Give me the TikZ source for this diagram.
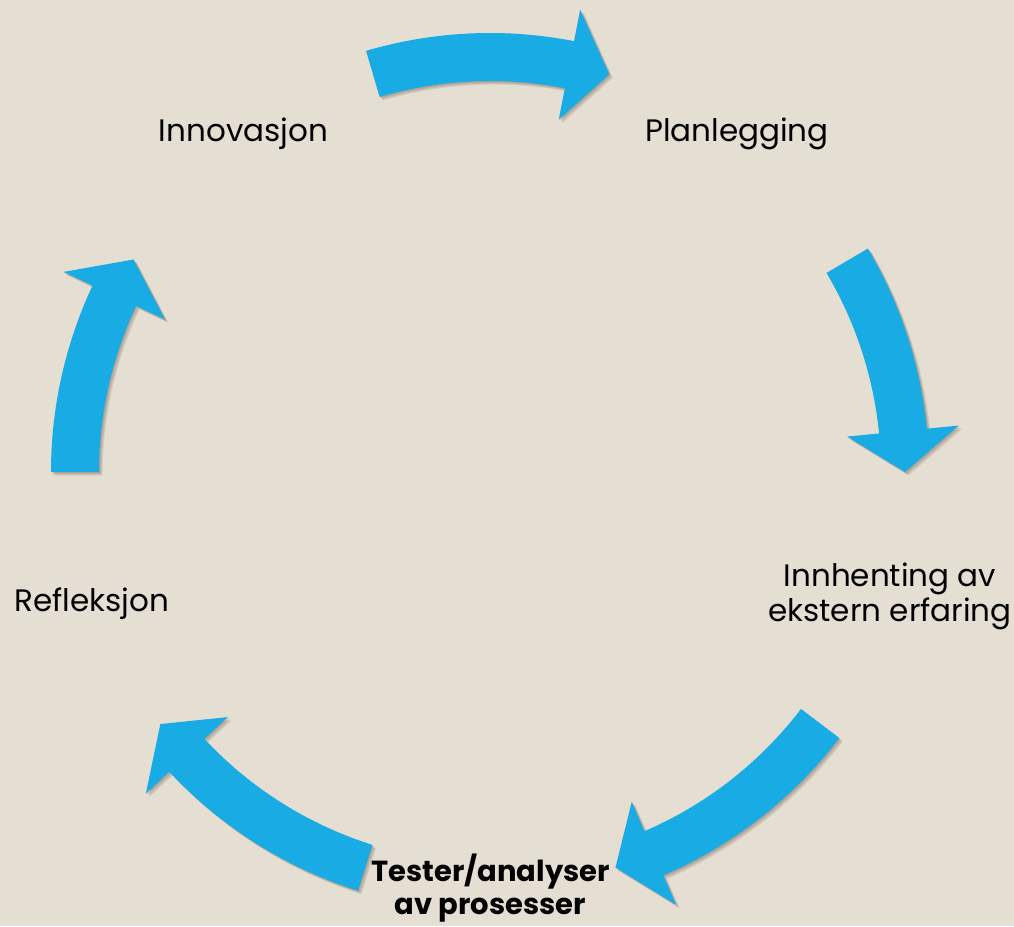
\documentclass[tikz,border=0pt]{standalone}
\usepackage{fontspec}
\setmainfont{Poppins}
\definecolor{bgbeige}{RGB}{228,222,211}
\definecolor{arrowblue}{RGB}{24,171,228}
\newcommand{\cyclearrow}[3]{% #1 tail angle, #2 tip angle, #3 style
  \pgfmathsetmacro{\hb}{#2+5.66}
  \path[#3] ([shift={(C)}]#1:439) arc[start angle=#1, end angle=\hb, radius=439]
    -- ([shift={(C)}]\hb:471) -- ([shift={(C)}]#2:415) -- ([shift={(C)}]\hb:359)
    -- ([shift={(C)}]\hb:391) arc[start angle=\hb, end angle=#1, radius=391] -- cycle;
}
\tikzset{
  arrowbody/.style={fill=arrowblue},
  arrowshadow/.style={fill=black!70!brown, fill opacity=0.09},
  label/.style={font=\fontsize{31pt}{35pt}\selectfont, text=black, inner sep=0pt, anchor=base, align=center},
  boldlabel/.style={label, font=\fontsize{29pt}{33pt}\selectfont\bfseries},
}
\begin{document}
\begin{tikzpicture}[x=1pt,y=1pt]
\fill[bgbeige] (0,0) rectangle (1014,926);
\useasboundingbox (0,0) rectangle (1014,926);
\coordinate (C) at (490,454);
\foreach \a/\b in {106.4/73.3, 30.6/0, -37.3/-72.4, -107.5/-142.6, 180/149.2}{
  \foreach \s in {1,2,3,4}{
    \begin{scope}[shift={(\s*0.9,-\s*0.9)}]
      \cyclearrow{\a}{\b}{arrowshadow}
    \end{scope}
  }
  \cyclearrow{\a}{\b}{arrowbody}
}
\node[label] (innov) at (243.5,784) {Innovasjon};
\node[label] (plan) at (737,784) {Planlegging};
\node[label] (refl) at (92,314) {Refleksjon};
\node[label] (innh) at (890,304) {Innhenting av\\ekstern erfaring};
\node[boldlabel] (test) at (490.5,12) {Tester/analyser\\av prosesser};
\end{tikzpicture}
\end{document}
